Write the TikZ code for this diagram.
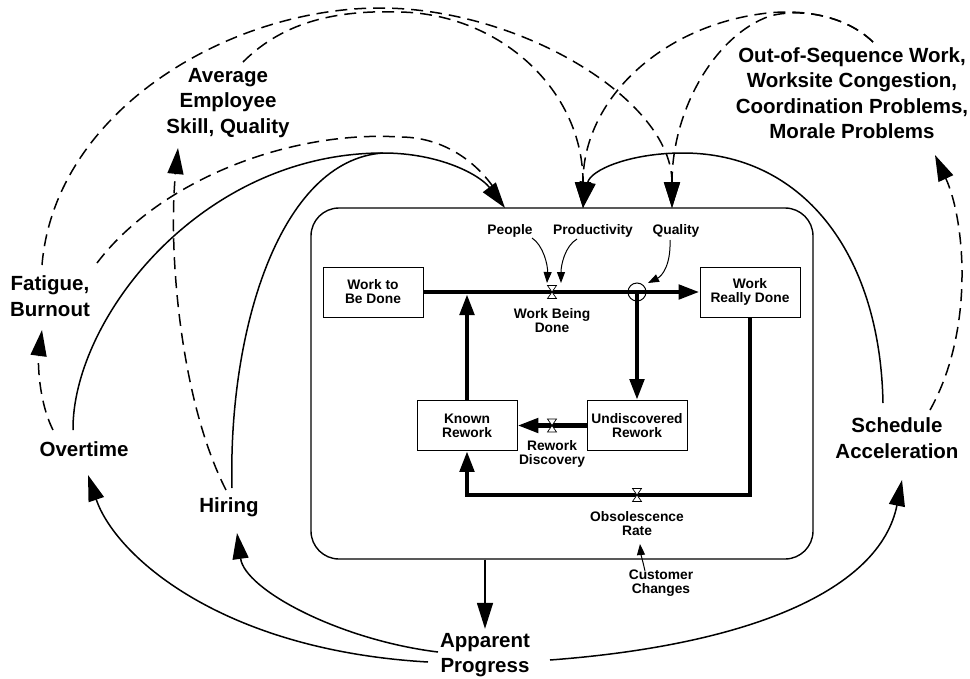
\documentclass[tikz,border=0pt]{standalone}
\usepackage{fontspec}
\setmainfont{Liberation Sans}
\usetikzlibrary{arrows.meta,calc}

\newcommand\lblbig{\fontsize{20.5}{25.5}\selectfont\bfseries}
\newcommand\lblsmall{\fontsize{13.8}{14}\selectfont\bfseries}

\begin{document}
\begin{tikzpicture}[x=1pt,y=-1pt,
  bigtxt/.style={font=\lblbig, align=center, inner sep=1pt},
  smalltxt/.style={font=\lblsmall, align=center, inner sep=1pt},
  stock/.style={draw, line width=0.9pt, minimum width=100pt, minimum height=50pt,
                font=\lblsmall, align=center, fill=white},
  pipe/.style={line width=4.8pt},
  link/.style={line width=1.5pt},
  dlink/.style={line width=1.5pt, dash pattern=on 12pt off 7pt},
  bigtip/.style={-{Triangle[length=26pt,width=16pt]}},
  pipetip/.style={-{Triangle[length=21pt,width=14pt]}},
  smalltip/.style={-{Triangle[length=11pt,width=8pt]}},
  valve/.pic={\draw[line width=0.7pt, fill=white]
      (-4.5,-6.5) -- (4.5,-6.5) -- (-4.5,6.5) -- (4.5,6.5) -- cycle;},
]
\useasboundingbox (0,0) rectangle (970,678);

% system boundary
\node[draw, line width=1.4pt, rounded corners=28pt, minimum width=502pt,
      minimum height=351pt, inner sep=0pt] (sys) at (562,383.5) {};
\coordinate (inA) at (505,208);
\coordinate (inB) at (583,208);
\coordinate (inC) at (672,208);

% stocks
\node[stock] (wtbd) at (373,292) {Work to\\Be Done};
\node[stock] (wrd) at (750,292) {Work\\Really Done};
\node[stock] (kr) at (467,425.5) {Known\\Rework};
\node[stock] (ur) at (637,425.5) {Undiscovered\\Rework};

% flows
\coordinate (v1) at (552,292);
\coordinate (split) at (637,292);
\coordinate (v2) at (552,425.5);
\coordinate (v3) at (637,495);

\draw[pipe,pipetip] (wtbd.east) -- (wrd.west);
\draw[pipe,pipetip] (split) -- (ur.north);
\draw[pipe,pipetip] (ur.west) -- (kr.east);
\draw[pipe,pipetip] (kr.north) -- ([yshift=-2pt]kr.north |- wtbd.east);
\draw[pipe,pipetip] (wrd.south) |- (v3) -| (kr.south);
\draw[line width=1pt] (split) circle[radius=9pt];
\pic at (v1) {valve};
\pic at (v2) {valve};
\pic at (v3) {valve};

% flow labels and inputs
\node[smalltxt] (people) at (510,231) {People};
\node[smalltxt] (prod) at (593,231) {Productivity};
\node[smalltxt] (qual) at (676,231) {Quality};
\node[smalltxt] (wbd) at (552,321) {Work Being\\Done};
\node[smalltxt] (rd) at (552,454) {Rework\\Discovery};
\node[smalltxt] (obs) at (637,524) {Obsolescence\\Rate};
\node[smalltxt] (cc) at (661,583) {Customer\\Changes};

\draw[line width=1pt,smalltip] ($(people)+(22,7)$) .. controls (543,245) and (548,265) .. ($(v1)+(-5,-9)$);
\draw[line width=1pt,smalltip] ($(prod)+(-16,8)$) .. controls (565,246) and (561,265) .. ($(v1)+(9,-9)$);
\draw[line width=1pt,smalltip] ($(qual)+(-6,9)$) .. controls (671,265) and (662,276) .. ($(split)+(11,-9)$);
\draw[line width=1pt,smalltip] ($(cc)+(-16,-12)$) .. controls (643,562) and (641,555) .. ($(obs)+(3,20)$);

% outer variables
\node[bigtxt] (skill) at (228,103) {Average\\Employee\\Skill, Quality};
\node[bigtxt] (fatigue) at (50,296) {Fatigue,\\Burnout};
\node[bigtxt] (overtime) at (84,449) {Overtime};
\node[bigtxt] (hiring) at (229,507) {Hiring};
\node[bigtxt] (sched) at (897,438) {Schedule\\Acceleration};
\node[bigtxt] (oos) at (852,93) {Out-of-Sequence Work,\\Worksite Congestion,\\Coordination Problems,\\Morale Problems};
\node[bigtxt] (ap) at (485,655) {Apparent\\Progress};

% apparent progress drives the responses
\draw[link,bigtip] (ap |- sys.south) -- ([yshift=3pt]ap.north);
\draw[link,bigtip] ($(ap)+(-57,7)$) .. controls (220,650) and (115,555) .. ($(overtime)+(4,26)$);
\draw[link,bigtip] ($(ap)+(-47,-3)$) .. controls (340,640) and (245,590) .. ($(hiring)+(8,26)$);
\draw[link,bigtip] ($(ap)+(65,5)$) .. controls (750,645) and (880,590) .. ($(sched)+(5,42)$);

% overtime and hiring add people
\coordinate (peakL) at (383,153);
\draw[link,bigtip] ($(overtime)+(-11,-19)$) .. controls (72,320) and (200,153) .. (peakL)
      .. controls (440,153) and (480,175) .. (inA);
\draw[link] ($(hiring)+(3,-19)$) .. controls (228,330) and (280,160) .. (peakL);

% schedule acceleration
\draw[link,bigtip] ($(sched)+(-14,-35)$) .. controls (880,250) and (800,153) .. (683,153)
      .. controls (630,153) and (590,170) .. (inB);
\draw[dlink,bigtip] ($(sched)+(33,-28)$) .. controls (975,330) and (965,220) .. ($(oos)+(83,62)$);

% side effects
\draw[dlink,bigtip] ($(overtime)+(-31,-19)$) .. controls (38,400) and (38,360) .. ($(fatigue)+(-8,34)$);
\draw[dlink,bigtip] ($(hiring)+(-3,-17)$) .. controls (180,400) and (168,250) .. ($(skill)+(-50,45)$);
\draw[dlink] ($(fatigue)+(47,-33)$) .. controls (160,180) and (290,130) .. (400,137)
      .. controls (450,137) and (485,170) .. ($(inA)+(-5,-10)$);
\draw[dlink,bigtip] ($(fatigue)+(-8,-31)$) .. controls (55,110) and (230,8) .. (380,8)
      .. controls (520,8) and (672,100) .. (inC);
\draw[dlink,bigtip] ($(skill)+(15,-41)$) .. controls (285,20) and (340,10) .. (400,12)
      .. controls (500,14) and (583,90) .. (inB);
\draw[dlink,bigtip] ($(oos)+(21,-51)$) .. controls (845,15) and (800,8) .. (760,14)
      .. controls (660,28) and (583,100) .. (inB);
\draw[dlink,bigtip] ($(oos)+(21,-51)$) .. controls (845,15) and (800,8) .. (770,16)
      .. controls (715,35) and (672,110) .. (inC);
\end{tikzpicture}
\end{document}
